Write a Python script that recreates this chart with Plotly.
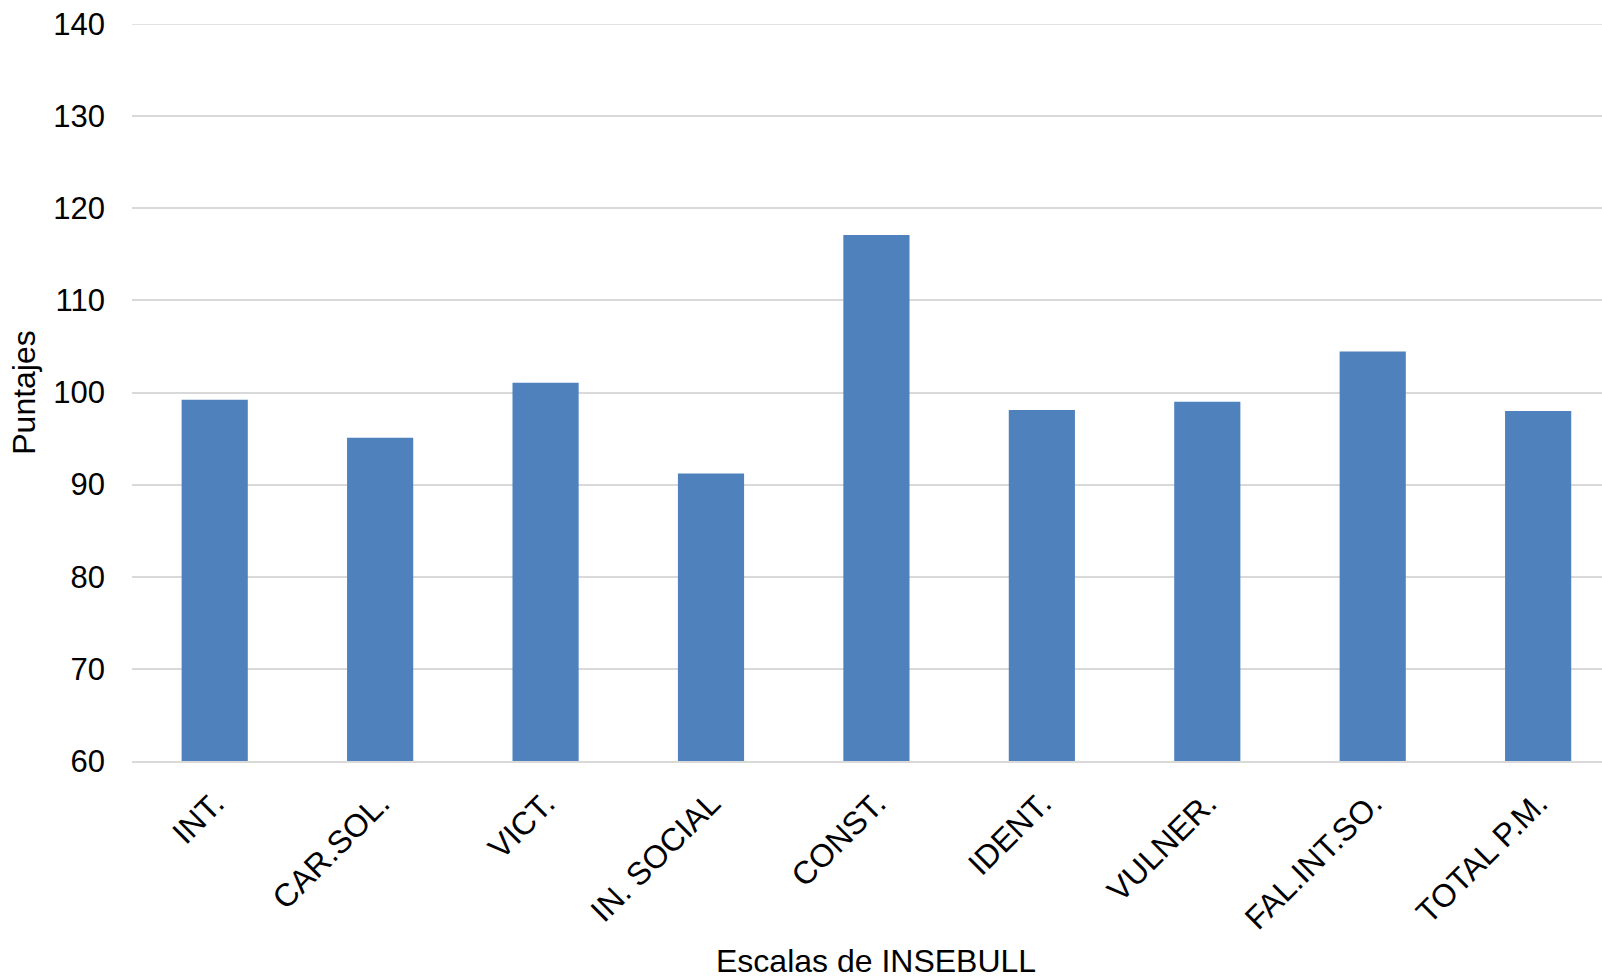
import plotly.graph_objects as go

# INSEBULL scales and mean scores
escalas = ["INT.", "CAR.SOL.", "VICT.", "IN. SOCIAL", "CONST.",
           "IDENT.", "VULNER.", "FAL.INT.SO.", "TOTAL P.M."]
puntajes = [99.2, 95.1, 101.05, 91.2, 117.1, 98.1, 99.0, 104.45, 98.0]

y_ticks = [60, 70, 80, 90, 100, 110, 120, 130, 140]

font_family = "Liberation Sans, Arial, sans-serif"
grid_color = "#d9d9d9"

fig = go.Figure(
    go.Bar(
        x=escalas,
        y=puntajes,
        marker=dict(color="#4f81bd", line=dict(width=0)),
    )
)

fig.update_layout(
    width=1602,
    height=980,
    margin=dict(l=132, r=0, t=24, b=219),
    paper_bgcolor="white",
    plot_bgcolor="white",
    bargap=0.6,
    showlegend=False,
    font=dict(family=font_family, size=31, color="#000000"),
)

# the plotting area runs off the right edge, so the last category is cut short
fig.update_xaxes(
    range=[-0.5, 8.386],
    tickangle=-45,
    tickfont=dict(size=32),
    showline=True,
    linecolor=grid_color,
    linewidth=1.5,
    showgrid=False,
    ticks="",
    ticklabelstandoff=9,
)

fig.update_yaxes(
    range=[60, 140],
    tickvals=y_ticks,
    tickfont=dict(size=31),
    showgrid=True,
    gridcolor=grid_color,
    gridwidth=1.5,
    zeroline=False,
    showline=False,
    ticks="",
    ticklabelstandoff=26,
    title=dict(text="Puntajes", font=dict(size=32), standoff=8),
)

# x-axis title, centred on the full (uncropped) category span
fig.add_annotation(
    text="Escalas de INSEBULL",
    xref="paper", yref="paper",
    x=0.506, y=-0.272,
    xanchor="center", yanchor="middle",
    showarrow=False,
    font=dict(size=32),
)

# top gridline sits on the plot edge, draw it explicitly
fig.add_shape(
    type="line", xref="paper", yref="y",
    x0=0, x1=1, y0=y_ticks[-1], y1=y_ticks[-1],
    line=dict(color=grid_color, width=1.5), layer="below",
)

fig.write_html("out.html")
